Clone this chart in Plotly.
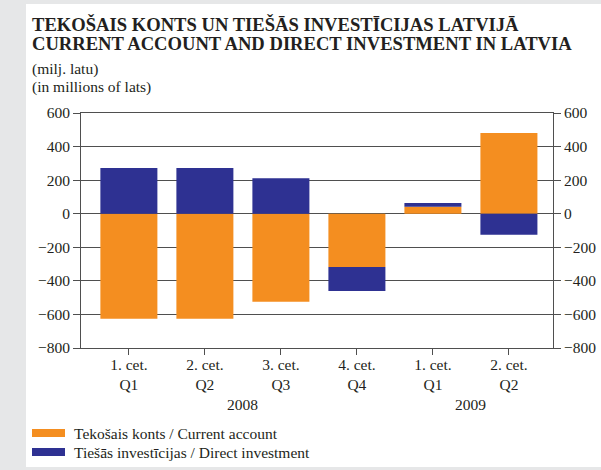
import plotly.graph_objects as go

# ---- data ----
quarters = ["1. cet.<br>Q1", "2. cet.<br>Q2", "3. cet.<br>Q3", "4. cet.<br>Q4", "1. cet.<br>Q1", "2. cet.<br>Q2"]
years = ["2008", "2009"]
year_centers = [1.5, 4.5]
current_account = [-625, -625, -525, -318, 42, 481]
direct_investment = [272, 272, 212, -143, 22, -126]
y_ticks = [600, 400, 200, 0, -200, -400, -600, -800]
name_ca = "Tekošais konts / Current account"
name_di = "Tiešās investīcijas / Direct investment"

ORANGE = "#F48E20"
NAVY = "#2E3192"
GRID = "#4f4f4f"
BG_GREY = "#E6E7E8"
TXT = "#231f20"
FONT = "Liberation Serif"
FS = 15.5

W, H = 601, 470
ML, MR, MT, MB = 81, 48, 113, 122
PW, PH = W - ML - MR, H - MT - MB


def px_x(x):
    return (x - ML) / PW


def px_y(y):
    return (H - MB - y) / PH


xs = list(range(len(quarters)))

fig = go.Figure()
fig.add_trace(go.Bar(x=xs, y=current_account, name=name_ca, marker=dict(color=ORANGE, line=dict(width=0)),
                     width=0.75, showlegend=False))
fig.add_trace(go.Bar(x=xs, y=direct_investment, name=name_di, marker=dict(color=NAVY, line=dict(width=0)),
                     width=0.75, showlegend=False))
# invisible trace to anchor the right-hand axis
fig.add_trace(go.Scatter(x=[xs[0]], y=[0], yaxis="y2", mode="markers", marker=dict(opacity=0),
                         showlegend=False, hoverinfo="skip"))

tickfont = dict(family=FONT, size=FS, color=TXT)

fig.update_layout(
    width=W, height=H,
    margin=dict(l=ML, r=MR, t=MT, b=MB, autoexpand=False),
    paper_bgcolor="white", plot_bgcolor="white",
    barmode="relative",
    font=dict(family=FONT, size=FS, color=TXT),
    xaxis=dict(range=[-0.63, 5.58], tickvals=xs, ticktext=quarters, ticks="outside", ticklen=6,
               tickcolor=GRID, showgrid=False, showline=True, linecolor=GRID, linewidth=1,
               mirror=True, zeroline=False, tickfont=tickfont, fixedrange=True,
               ticklabelstandoff=-4),
    yaxis=dict(range=[-800, 600], tickvals=y_ticks, ticks="outside", ticklen=7, tickcolor=GRID,
               showgrid=True, gridcolor=GRID, gridwidth=1, zeroline=True, zerolinecolor=GRID,
               zerolinewidth=1, showline=True, linecolor=GRID, linewidth=1, tickfont=tickfont,
               tickformat="d"),
    yaxis2=dict(range=[-800, 600], tickvals=y_ticks, ticks="outside", ticklen=7, tickcolor=GRID,
                overlaying="y", side="right", showgrid=False, zeroline=False, showline=True,
                linecolor=GRID, linewidth=1, tickfont=tickfont, tickformat="d"),
)

shapes = []
# grey page strips
for x0, y0, x1, y1 in [(0, 0, 26, H), (0, 0, W, 4), (0, 467, W, H)]:
    shapes.append(dict(type="rect", xref="paper", yref="paper", x0=px_x(x0), x1=px_x(x1),
                       y0=px_y(y0), y1=px_y(y1), fillcolor=BG_GREY, line=dict(width=0), layer="below"))
# legend swatches
for yc, col in [(433, ORANGE), (452, NAVY)]:
    shapes.append(dict(type="rect", xref="paper", yref="paper", x0=px_x(32), x1=px_x(65),
                       y0=px_y(yc - 4), y1=px_y(yc + 4), fillcolor=col, line=dict(width=0)))
fig.update_layout(shapes=shapes)

ann = []
# titles
for text, yc, size, bold in [
    ("TEKOŠAIS KONTS UN TIEŠĀS INVESTĪCIJAS LATVIJĀ", 25, 18.6, True),
    ("CURRENT ACCOUNT AND DIRECT INVESTMENT IN LATVIA", 44, 18.6, True),
    ("(milj. latu)", 69, FS, False),
    ("(in millions of lats)", 87, FS, False),
]:
    ann.append(dict(text=f"<b>{text}</b>" if bold else text, xref="paper", yref="paper",
                    x=px_x(30), y=px_y(yc), xanchor="left", yanchor="middle", showarrow=False,
                    font=dict(family=FONT, size=size, color=TXT)))
# years
for yr, xc in zip(years, year_centers):
    ann.append(dict(text=yr, xref="x", yref="paper", x=xc, y=px_y(404), xanchor="center",
                    yanchor="middle", showarrow=False, font=tickfont))
# legend labels
for text, yc in [(name_ca, 433), (name_di, 452)]:
    ann.append(dict(text=text, xref="paper", yref="paper", x=px_x(72), y=px_y(yc), xanchor="left",
                    yanchor="middle", showarrow=False, font=dict(family=FONT, size=FS, color=TXT)))
fig.update_layout(annotations=ann)

fig.write_html(
    "out.html",
    config={"displayModeBar": False},
    post_script="document.body.style.margin='0';document.body.style.overflow='hidden';"
                "document.documentElement.style.overflow='hidden';",
)
